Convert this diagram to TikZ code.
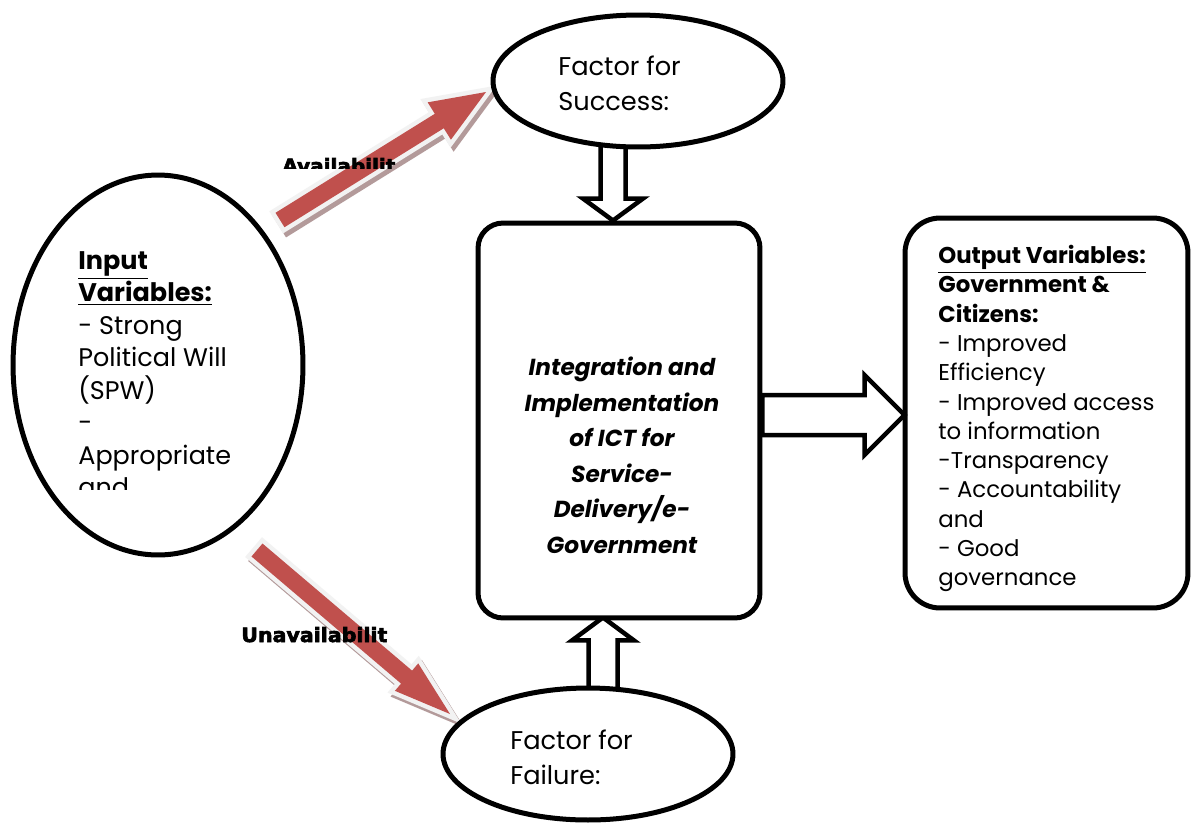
\documentclass[tikz,border=0pt]{standalone}
\usepackage{fontspec}
\usepackage{graphicx}
\setmainfont{Poppins}
\newfontfamily\heavyfont{DejaVu Sans}[UprightFeatures={FakeBold=3}, BoldFeatures={FakeBold=3}]
\usetikzlibrary{calc,shapes.geometric}

\definecolor{arrowred}{HTML}{C0504D}
\definecolor{arrowrim}{HTML}{F2F2F2}
\definecolor{arrowshade}{HTML}{B39A9A}

\pgfdeclarelayer{back}
\pgfsetlayers{back,main}

% block arrow outline: tail, tip, shaft half width, head half width, head length
\newcommand\arrowpath[5]{%
  ($(#1)!#3!90:(#2)$)
  -- ($($(#2)!#5!(#1)$)!#3!90:(#2)$)
  -- ($($(#2)!#5!(#1)$)!#4!90:(#2)$)
  -- (#2)
  -- ($($(#2)!#5!(#1)$)!#4!-90:(#2)$)
  -- ($($(#2)!#5!(#1)$)!#3!-90:(#2)$)
  -- ($(#1)!#3!-90:(#2)$) -- cycle}

\tikzset{
  frame/.style={draw=black, line width=0.1cm},
  oval/.style={frame, ellipse, fill=white, inner sep=0pt},
  panel/.style={frame, rectangle, fill=white, inner sep=0pt},
  hollow/.style={draw=black, line width=0.09cm, fill=white, line join=miter},
  redarrow/.style={
    preaction={fill=arrowshade, draw=arrowshade, line width=0.18cm, line join=miter,
               transform canvas={shift={(0.06cm,-0.08cm)}}},
    preaction={draw=arrowrim, line width=0.18cm, line join=miter},
    fill=arrowred},
  bodytext/.style={inner sep=0pt, align=left, anchor=north west},
  heavylabel/.style={inner sep=0pt, anchor=base west, font=\heavyfont\bfseries},
}

\begin{document}
\begin{tikzpicture}[x=0.02cm, y=-0.02cm]
\useasboundingbox (0,0) rectangle (1191,823);

% shapes
\node[oval, minimum width=5.8cm, minimum height=7.6cm] (input) at (158,365) {};
\node[oval, minimum width=5.8cm, minimum height=2.64cm] (succ) at (638,81) {};
\node[oval, minimum width=5.8cm, minimum height=2.64cm] (fail) at (588,754) {};
\node[panel, rounded corners=0.5cm, minimum width=5.64cm, minimum height=7.9cm] (impl) at (619,420.5) {};
\node[panel, rounded corners=0.7cm, minimum width=5.66cm, minimum height=7.8cm] (outv) at (1046.5,413) {};

% arrow end points
\coordinate (upTail) at (280,220);
\coordinate (upTip) at (486,92);
\coordinate (downTail) at (257,550);
\coordinate (downTip) at (450,714);
\coordinate (topFrom) at ($(succ.south -| impl.north)+(-6,-8)$);
\coordinate (topTo) at ($(impl.north)+(-6,0)$);
\coordinate (botFrom) at ($(fail.north -| impl.south)+(-16,8)$);
\coordinate (botTo) at ($(impl.south)+(-16,-3)$);
\coordinate (midFrom) at ($(impl.east)+(0,-5.5)$);
\coordinate (midTo) at ($(outv.west)+(2,2)$);

\begin{pgfonlayer}{back}
  \fill[white] (0,0) rectangle (1191,823);
  \path[redarrow] \arrowpath{upTail}{upTip}{0.17cm}{0.44cm}{1.1cm};
  \path[redarrow] \arrowpath{downTail}{downTip}{0.17cm}{0.36cm}{1.14cm};
  \path[hollow] \arrowpath{topFrom}{topTo}{0.25cm}{0.6cm}{0.44cm};
  \path[hollow] \arrowpath{botFrom}{botTo}{0.29cm}{0.62cm}{0.46cm};
\end{pgfonlayer}
\path[hollow] \arrowpath{midFrom}{midTo}{0.4cm}{0.8cm}{0.8cm};

% texts
\node[bodytext, font=\fontsize{14.6}{19.8}\selectfont] (succText) at (558,56) {Factor for\\Success:};
\node[bodytext, font=\fontsize{14.6}{19.8}\selectfont] (failText) at (510,730) {Factor for\\Failure:};

\begin{scope}
  \clip (20,230) rectangle (300,489);
  \node[bodytext, font=\fontsize{14.5}{18.5}\selectfont] (inText) at (78,251)
    {\textbf{\underline{Input}}\\\textbf{\underline{Variables:}}\\- Strong\\Political Will\\(SPW)\\-\\Appropriate\\and};
\end{scope}

\node[inner sep=0pt, anchor=north, align=center, font=\fontsize{13.2}{20.2}\selectfont\bfseries\itshape] (implText) at (622,357)
  {Integration and\\Implementation\\of ICT for\\Service-\\Delivery/e-\\Government};

\node[bodytext, font=\fontsize{13}{16.67}\selectfont] (outText) at (938,245)
  {\underline{\textbf{Output Variables:}}\\\textbf{Government \&}\\\textbf{Citizens:}\\- Improved\\Efficiency\\- Improved access\\to information\\-Transparency\\- Accountability\\and\\- Good\\governance};

\begin{scope}
  \clip (270,150) rectangle (420,168);
  \node[heavylabel] (availLabel) at (282,173) {\resizebox{2.26cm}{0.3cm}{Availabilit}};
\end{scope}
\node[heavylabel] (unavailLabel) at (241,642) {\resizebox{2.92cm}{0.3cm}{Unavailabilit}};
\end{tikzpicture}
\end{document}
